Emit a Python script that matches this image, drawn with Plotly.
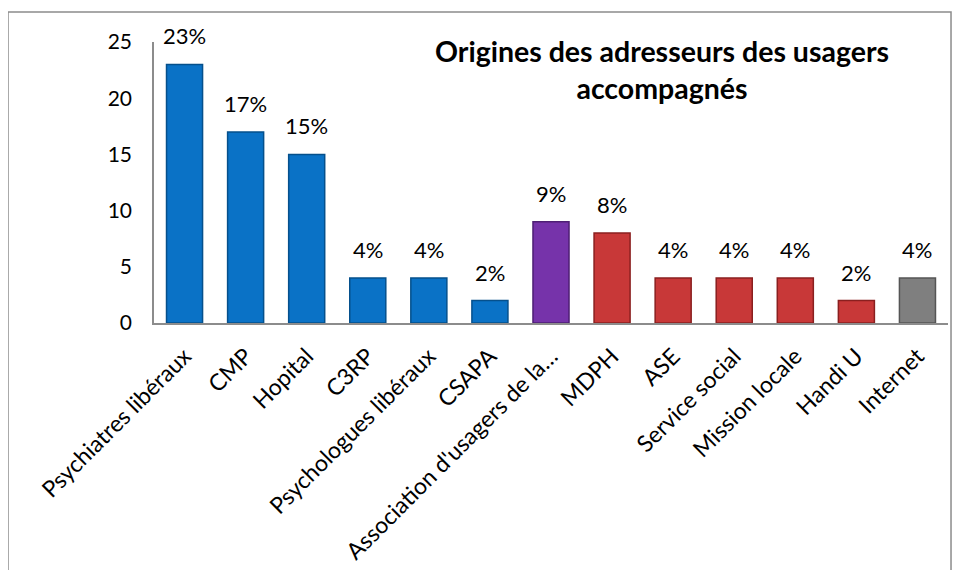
import plotly.graph_objects as go

# Data
categories = ["Psychiatres libéraux", "CMP", "Hopital", "C3RP", "Psychologues libéraux",
              "CSAPA", "Association d'usagers de la…", "MDPH", "ASE", "Service social",
              "Mission locale", "Handi U", "Internet"]
values = [23, 17, 15, 4, 4, 2, 9, 8, 4, 4, 4, 2, 4]
labels = ["23%", "17%", "15%", "4%", "4%", "2%", "9%", "8%", "4%", "4%", "4%", "2%", "4%"]
groups = ["blue"] * 6 + ["purple"] + ["red"] * 5 + ["grey"]

fill = {"blue": "#0A72C6", "purple": "#7633AA", "red": "#C83838", "grey": "#7F7F7F"}
edge = {"blue": "#05508C", "purple": "#4E1F74", "red": "#8A1F1F", "grey": "#555555"}

FONT = "Lato"

fig = go.Figure()
fig.add_bar(
    x=categories,
    y=values,
    cliponaxis=False,
    marker=dict(color=[fill[g] for g in groups],
                line=dict(color=[edge[g] for g in groups], width=1.5)),
    showlegend=False,
    hovertext=labels,
)

# percentage labels sitting above each bar
for cat, val, lab in zip(categories, values, labels):
    fig.add_annotation(x=cat, y=val, text=lab, showarrow=False,
                       yanchor="bottom", yshift=13,
                       font=dict(family=FONT, size=22, color="black"))

fig.add_annotation(
    text="<b>Origines des adresseurs des usagers<br>accompagnés</b>",
    xref="paper", yref="paper", x=0.64, y=1.035,
    xanchor="center", yanchor="top", showarrow=False,
    font=dict(family=FONT, size=28.5, color="black"),
)

fig.update_layout(
    width=944, height=562,
    margin=dict(l=146, r=4, t=34, b=247),
    plot_bgcolor="white",
    paper_bgcolor="white",
    bargap=0.41,
    font=dict(family=FONT, size=20, color="black"),
    shapes=[dict(
        type="rect", xref="paper", yref="paper",
        x0=-0.1839, x1=1.0038, y0=-1.2, y1=1.107,
        line=dict(color="#8C8C8C", width=1.5), fillcolor="rgba(0,0,0,0)",
        layer="below",
    )],
)

fig.update_xaxes(
    tickangle=-45,
    automargin=False,
    showline=True, linecolor="#8C8C8C", linewidth=1.5,
    showgrid=False, ticks="",
    ticklabelstandoff=9,
    tickfont=dict(family=FONT, size=23),
)
fig.update_yaxes(
    range=[0, 25], tickvals=[0, 5, 10, 15, 20, 25],
    automargin=False,
    showline=True, linecolor="#8C8C8C", linewidth=1.5,
    showgrid=False, ticks="", zeroline=False,
    ticklabelstandoff=16,
    tickfont=dict(family=FONT, size=21),
)

fig.write_html("out.html")
